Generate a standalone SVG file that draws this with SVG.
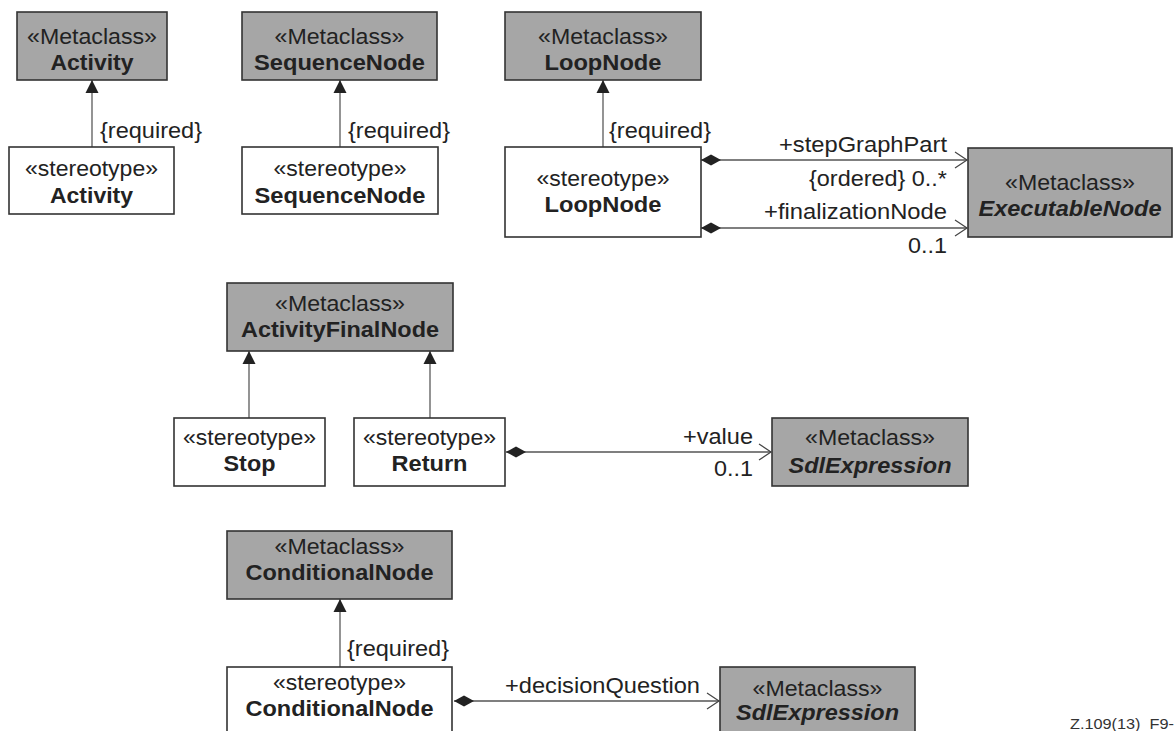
<svg xmlns="http://www.w3.org/2000/svg" width="1174" height="731" viewBox="0 0 1174 731">
  <style>
    .meta { fill: #a6a6a6; stroke: #333; stroke-width: 1.6; }
    .stereo { fill: #fff; stroke: #333; stroke-width: 1.6; }
    text { font-family: "Liberation Sans", Arial, sans-serif; fill: #222; }
    .kw { font-size: 22px; text-anchor: middle; }
    .nm { font-size: 22px; font-weight: bold; text-anchor: middle; }
    .it { font-style: italic; }
    .lbl { font-size: 22px; }
    .end { text-anchor: end; }
    .gen { stroke: #666; stroke-width: 1.4; fill: none; marker-end: url(#tri); }
    .comp { stroke: #555; stroke-width: 1.4; fill: none; marker-start: url(#diamond); marker-end: url(#open); }
  </style>
  <defs>
    <marker id="tri" markerUnits="userSpaceOnUse" markerWidth="14" markerHeight="14" refX="13" refY="6.5" orient="auto" overflow="visible">
      <path d="M0,0 L13,6.5 L0,13 Z" fill="#222"/>
    </marker>
    <marker id="diamond" markerUnits="userSpaceOnUse" markerWidth="22" markerHeight="12" refX="0" refY="5.5" orient="auto" overflow="visible">
      <path d="M0,5.5 L10,0 L20,5.5 L10,11 Z" fill="#222"/>
    </marker>
    <marker id="open" markerUnits="userSpaceOnUse" markerWidth="14" markerHeight="18" refX="12" refY="8" orient="auto" overflow="visible">
      <path d="M0,0 L12,8 L0,16" fill="none" stroke="#444" stroke-width="1.2"/>
    </marker>
  </defs>

  <!-- connectors -->
  <g id="connectors">
    <line class="gen" x1="92" y1="147" x2="92" y2="80"/>
    <line class="gen" x1="340" y1="147" x2="340" y2="80"/>
    <line class="gen" x1="603" y1="147" x2="603" y2="80"/>
    <line class="gen" x1="249" y1="418" x2="249" y2="351"/>
    <line class="gen" x1="430" y1="418" x2="430" y2="351"/>
    <line class="gen" x1="340" y1="667" x2="340" y2="599"/>
    <line class="comp" x1="701" y1="160" x2="967" y2="160"/>
    <line class="comp" x1="701" y1="228" x2="967" y2="228"/>
    <line class="comp" x1="506" y1="452" x2="771" y2="452"/>
    <line class="comp" x1="454" y1="701" x2="719" y2="701"/>

    <text class="lbl" x="100" y="138" textLength="102" lengthAdjust="spacingAndGlyphs">{required}</text>
    <text class="lbl" x="348" y="138" textLength="102" lengthAdjust="spacingAndGlyphs">{required}</text>
    <text class="lbl" x="609" y="138" textLength="102" lengthAdjust="spacingAndGlyphs">{required}</text>
    <text class="lbl" x="347" y="656" textLength="102" lengthAdjust="spacingAndGlyphs">{required}</text>
    <text class="lbl end" x="947" y="152" textLength="168" lengthAdjust="spacingAndGlyphs">+stepGraphPart</text>
    <text class="lbl end" x="947" y="186" textLength="138" lengthAdjust="spacingAndGlyphs">{ordered} 0..*</text>
    <text class="lbl end" x="947" y="219" textLength="183" lengthAdjust="spacingAndGlyphs">+finalizationNode</text>
    <text class="lbl end" x="947" y="253" textLength="39" lengthAdjust="spacingAndGlyphs">0..1</text>
    <text class="lbl end" x="753" y="444" textLength="70" lengthAdjust="spacingAndGlyphs">+value</text>
    <text class="lbl end" x="753" y="476" textLength="39" lengthAdjust="spacingAndGlyphs">0..1</text>
    <text class="lbl end" x="700" y="693" textLength="195" lengthAdjust="spacingAndGlyphs">+decisionQuestion</text>
  </g>

  <g id="metaActivity">
    <rect class="meta" x="17" y="12" width="150" height="68"/>
    <text class="kw" x="92" y="44" textLength="130" lengthAdjust="spacingAndGlyphs">«Metaclass»</text>
    <text class="nm" x="92" y="70" textLength="83" lengthAdjust="spacingAndGlyphs">Activity</text>
  </g>
  <g id="stActivity">
    <rect class="stereo" x="9" y="147" width="165" height="67"/>
    <text class="kw" x="91.5" y="176" textLength="133" lengthAdjust="spacingAndGlyphs">«stereotype»</text>
    <text class="nm" x="91.5" y="203" textLength="83" lengthAdjust="spacingAndGlyphs">Activity</text>
  </g>

  <g id="metaSequenceNode">
    <rect class="meta" x="242" y="12" width="195" height="68"/>
    <text class="kw" x="339.5" y="44" textLength="130" lengthAdjust="spacingAndGlyphs">«Metaclass»</text>
    <text class="nm" x="339.5" y="70" textLength="171" lengthAdjust="spacingAndGlyphs">SequenceNode</text>
  </g>
  <g id="stSequenceNode">
    <rect class="stereo" x="242" y="147" width="196" height="67"/>
    <text class="kw" x="340" y="176" textLength="133" lengthAdjust="spacingAndGlyphs">«stereotype»</text>
    <text class="nm" x="340" y="203" textLength="171" lengthAdjust="spacingAndGlyphs">SequenceNode</text>
  </g>

  <g id="metaLoopNode">
    <rect class="meta" x="505" y="12" width="196" height="68"/>
    <text class="kw" x="603" y="44" textLength="130" lengthAdjust="spacingAndGlyphs">«Metaclass»</text>
    <text class="nm" x="603" y="70" textLength="117" lengthAdjust="spacingAndGlyphs">LoopNode</text>
  </g>
  <g id="stLoopNode">
    <rect class="stereo" x="505" y="147" width="196" height="90"/>
    <text class="kw" x="603" y="186" textLength="133" lengthAdjust="spacingAndGlyphs">«stereotype»</text>
    <text class="nm" x="603" y="212" textLength="117" lengthAdjust="spacingAndGlyphs">LoopNode</text>
  </g>

  <g id="metaExecutableNode">
    <rect class="meta" x="968" y="148" width="204" height="89"/>
    <text class="kw" x="1070" y="190" textLength="130" lengthAdjust="spacingAndGlyphs">«Metaclass»</text>
    <text class="nm it" x="1070" y="216" textLength="183" lengthAdjust="spacingAndGlyphs">ExecutableNode</text>
  </g>

  <g id="metaActivityFinalNode">
    <rect class="meta" x="227" y="283" width="226" height="68"/>
    <text class="kw" x="340" y="311" textLength="130" lengthAdjust="spacingAndGlyphs">«Metaclass»</text>
    <text class="nm" x="340" y="337" textLength="198" lengthAdjust="spacingAndGlyphs">ActivityFinalNode</text>
  </g>
  <g id="stStop">
    <rect class="stereo" x="174" y="418" width="151" height="68"/>
    <text class="kw" x="249.5" y="445" textLength="133" lengthAdjust="spacingAndGlyphs">«stereotype»</text>
    <text class="nm" x="249.5" y="471" textLength="52" lengthAdjust="spacingAndGlyphs">Stop</text>
  </g>
  <g id="stReturn">
    <rect class="stereo" x="354" y="418" width="151" height="68"/>
    <text class="kw" x="429.5" y="445" textLength="133" lengthAdjust="spacingAndGlyphs">«stereotype»</text>
    <text class="nm" x="429.5" y="471" textLength="76" lengthAdjust="spacingAndGlyphs">Return</text>
  </g>
  <g id="metaSdlExpression1">
    <rect class="meta" x="772" y="418" width="196" height="68"/>
    <text class="kw" x="870" y="445" textLength="130" lengthAdjust="spacingAndGlyphs">«Metaclass»</text>
    <text class="nm it" x="870" y="473" textLength="163" lengthAdjust="spacingAndGlyphs">SdlExpression</text>
  </g>

  <g id="metaConditionalNode">
    <rect class="meta" x="227" y="531" width="225" height="68"/>
    <text class="kw" x="339.5" y="554" textLength="130" lengthAdjust="spacingAndGlyphs">«Metaclass»</text>
    <text class="nm" x="339.5" y="580" textLength="188" lengthAdjust="spacingAndGlyphs">ConditionalNode</text>
  </g>
  <g id="stConditionalNode">
    <rect class="stereo" x="227" y="667" width="225" height="80"/>
    <text class="kw" x="339.5" y="690" textLength="133" lengthAdjust="spacingAndGlyphs">«stereotype»</text>
    <text class="nm" x="339.5" y="716" textLength="188" lengthAdjust="spacingAndGlyphs">ConditionalNode</text>
  </g>
  <g id="metaSdlExpression2">
    <rect class="meta" x="720" y="667" width="195" height="80"/>
    <text class="kw" x="817.5" y="696" textLength="130" lengthAdjust="spacingAndGlyphs">«Metaclass»</text>
    <text class="nm it" x="817.5" y="720" textLength="163" lengthAdjust="spacingAndGlyphs">SdlExpression</text>
  </g>

  <text x="1070" y="729" style="font-size:14px;fill:#333" textLength="104" lengthAdjust="spacingAndGlyphs" xml:space="preserve">Z.109(13)  F9-</text>
</svg>
